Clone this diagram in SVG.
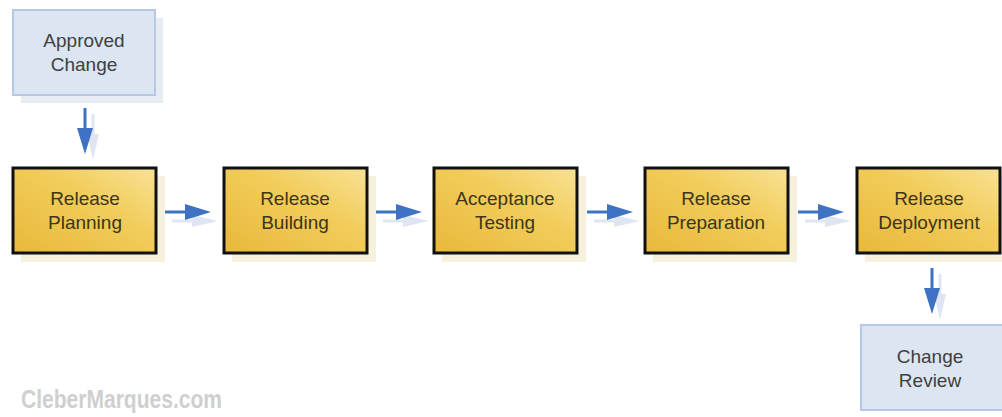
<svg xmlns="http://www.w3.org/2000/svg" width="1002" height="417" viewBox="0 0 1002 417">
<defs>
<linearGradient id="gy" x1="0" y1="1" x2="1" y2="0">
<stop offset="0" stop-color="#e8b83a"/>
<stop offset="0.6" stop-color="#f2cd5c"/>
<stop offset="1" stop-color="#f9e296"/>
</linearGradient>
<path id="ah" d="M0,-1.5 H20 V-8 L46,0 L20,8 V1.5 H0 Z"/>
<path id="ahs" d="M0,-1.5 H20 V-6 L46,0 L20,6 V1.5 H0 Z"/>
</defs>
<style>
.sh{fill:#f6f1dc}
.y{fill:url(#gy);stroke:#111;stroke-width:3}
.bsh{fill:#e6ebf4}
.b{fill:#dce5f2;stroke:#b7c8e2;stroke-width:2}
.t{font-family:"Liberation Sans",Arial,sans-serif;font-size:19px;fill:#3b3619;text-anchor:middle}
.tb{font-family:"Liberation Sans",Arial,sans-serif;font-size:19px;fill:#3f3f3f;text-anchor:middle}
.c{fill:#3f72c2}
.cs{fill:#dfe6f2}
</style>
<rect width="1002" height="417" fill="#fff"/>
<g id="approved">
<rect class="bsh" x="21" y="18" width="142" height="85"/>
<rect class="b" x="13" y="10" width="142" height="85"/>
<text class="tb" x="84" y="47">Approved</text>
<text class="tb" x="84" y="71">Change</text>
</g>
<g id="planning">
<rect class="sh" x="21" y="176" width="144" height="86"/>
<rect class="y" x="13" y="168" width="143" height="85"/>
<text class="t" x="85" y="205">Release</text>
<text class="t" x="85" y="229">Planning</text>
</g>
<g id="building">
<rect class="sh" x="232" y="176" width="144" height="86"/>
<rect class="y" x="224" y="168" width="143" height="85"/>
<text class="t" x="295" y="205">Release</text>
<text class="t" x="295" y="229">Building</text>
</g>
<g id="testing">
<rect class="sh" x="442" y="176" width="144" height="86"/>
<rect class="y" x="434" y="168" width="143" height="85"/>
<text class="t" x="505" y="205">Acceptance</text>
<text class="t" x="505" y="229">Testing</text>
</g>
<g id="preparation">
<rect class="sh" x="653" y="176" width="144" height="86"/>
<rect class="y" x="645" y="168" width="143" height="85"/>
<text class="t" x="716" y="205">Release</text>
<text class="t" x="716" y="229">Preparation</text>
</g>
<g id="deployment">
<rect class="sh" x="865" y="176" width="144" height="86"/>
<rect class="y" x="857" y="168" width="143" height="85"/>
<text class="t" x="929" y="205">Release</text>
<text class="t" x="929" y="229">Deployment</text>
</g>
<g id="review">
<rect class="b" x="861" y="325" width="142" height="85"/>
<text class="tb" x="930" y="363">Change</text>
<text class="tb" x="930" y="387">Review</text>
</g>
<g id="connectors">
<use href="#ahs" class="cs" transform="translate(93,114) rotate(90)"/>
<use href="#ah" class="c" transform="translate(85,108) rotate(90)"/>
<use href="#ahs" class="cs" transform="translate(172,221)"/>
<use href="#ah" class="c" transform="translate(165,212)"/>
<use href="#ahs" class="cs" transform="translate(383,221)"/>
<use href="#ah" class="c" transform="translate(376,212)"/>
<use href="#ahs" class="cs" transform="translate(594,221)"/>
<use href="#ah" class="c" transform="translate(587,212)"/>
<use href="#ahs" class="cs" transform="translate(805,221)"/>
<use href="#ah" class="c" transform="translate(798,212)"/>
<use href="#ahs" class="cs" transform="translate(940,274) rotate(90)"/>
<use href="#ah" class="c" transform="translate(932,268) rotate(90)"/>
</g>
<text x="21" y="408" font-family="'Liberation Sans',Arial,sans-serif" font-weight="bold" font-size="25" fill="#cfcfcf" textLength="201" lengthAdjust="spacingAndGlyphs">CleberMarques.com</text>
</svg>
